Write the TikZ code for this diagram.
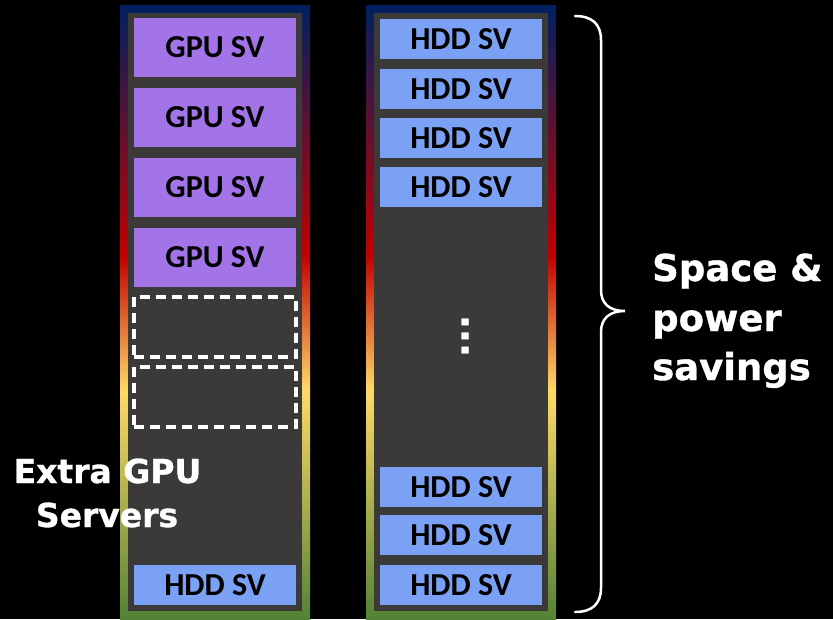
\documentclass[tikz,border=0pt]{standalone}
\usepackage{fontspec}
\newfontfamily\boxfont{Carlito}
\newfontfamily\labfont{DejaVu Sans}[BoldFeatures={FakeBold=1}]
\definecolor{gpu}{HTML}{A374E8}
\definecolor{hdd}{HTML}{7BA1F5}
\definecolor{rackin}{HTML}{3B3A38}
\definecolor{gnavy}{HTML}{002060}
\definecolor{gred}{HTML}{C00000}
\definecolor{gyel}{HTML}{FFD966}
\definecolor{ggreen}{HTML}{548235}
\begin{document}
\begin{tikzpicture}[x=1pt,y=-1pt,
  srv/.style={rectangle, inner sep=0pt, font=\boxfont\bfseries\fontsize{32}{32}\selectfont, text=black},
  gpusv/.style={srv, fill=gpu, minimum width=162pt, minimum height=59pt},
  hddsv/.style={srv, fill=hdd, minimum width=162pt, minimum height=40pt},
  slot/.style={rectangle, draw=white, line width=4pt, dash pattern=on 10pt off 6pt, minimum width=162pt, minimum height=60pt, inner sep=0pt},
  lab/.style={font=\labfont\bfseries\fontsize{37}{50}\selectfont, text=white, inner sep=0pt},
  sublab/.style={lab, font=\labfont\bfseries\fontsize{33}{44}\selectfont},
  bracestyle/.style={white, line width=2.5pt, line cap=round}
]
\useasboundingbox (0,0) rectangle (833,619);
\fill[black] (0,0) rectangle (833,619);
% racks with gradient frame
\foreach \x in {120,366} {
  \shade[top color=gnavy, bottom color=gred] (\x,5) rectangle ++(190,250.5);
  \shade[top color=gred, bottom color=gyel] (\x,255) rectangle ++(190,135.5);
  \shade[top color=gyel, bottom color=ggreen] (\x,390) rectangle ++(190,229);
  \fill[rackin] (\x+8,13) rectangle ++(174,598);
}
% left rack
\node[gpusv] (gpu1) at (215,47.5) {GPU SV};
\node[gpusv] (gpu2) at (215,117.5) {GPU SV};
\node[gpusv] (gpu3) at (215,187.5) {GPU SV};
\node[gpusv] (gpu4) at (215,257.5) {GPU SV};
\node[slot] (slot1) at (215,327) {};
\node[slot] (slot2) at (215,397) {};
\node[hddsv] (hddL) at (215,585) {HDD SV};
% right rack
\node[hddsv] (hdd1) at (461,39) {HDD SV};
\node[hddsv] (hdd2) at (461,89) {HDD SV};
\node[hddsv] (hdd3) at (461,138) {HDD SV};
\node[hddsv] (hdd4) at (461,187) {HDD SV};
\node[lab, rotate=90] (dots) at (465,336) {...};
\node[hddsv] (hdd5) at (461,487) {HDD SV};
\node[hddsv] (hdd6) at (461,535) {HDD SV};
\node[hddsv] (hdd7) at (461,585) {HDD SV};
% labels
\node[sublab, anchor=base] (ex1) at (107.5,483) {Extra GPU};
\node[sublab, anchor=base] (ex2) at (107,527) {Servers};
\node[lab, anchor=base west] (sp1) at (652,281) {Space \&};
\node[lab, anchor=base west] (sp2) at (652,331) {power};
\node[lab, anchor=base west] (sp3) at (652,380) {savings};
% brace
\draw[bracestyle] (575,16) .. controls (592,16) and (601,24) .. (601,40) -- (601,290)
  .. controls (601,304) and (610,311) .. (625,311)
  .. controls (610,311) and (601,318) .. (601,332) -- (601,588)
  .. controls (601,604) and (592,612) .. (575,612);
\end{tikzpicture}
\end{document}
